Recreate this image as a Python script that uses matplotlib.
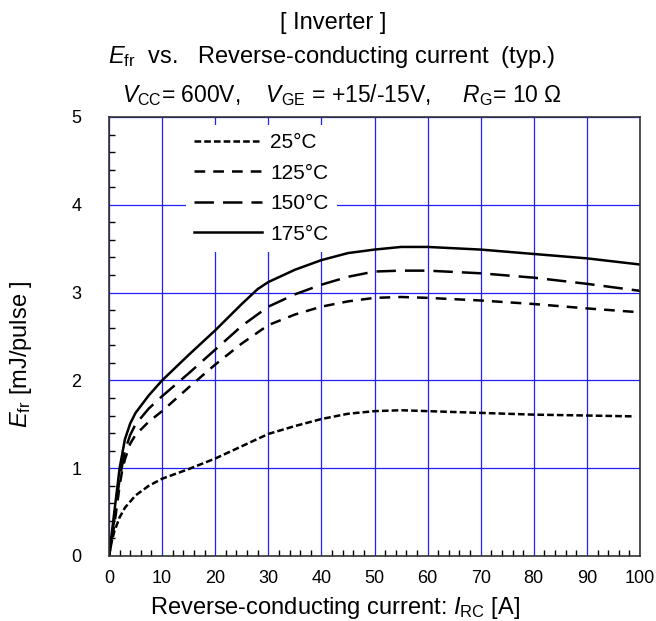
import numpy as np
import matplotlib
matplotlib.use("Agg")
import matplotlib.pyplot as plt
from matplotlib.ticker import MultipleLocator

plt.rcParams['font.family'] = ['Liberation Sans', 'DejaVu Sans']
plt.rcParams['mathtext.fontset'] = 'custom'
plt.rcParams['mathtext.rm'] = 'Liberation Sans'
plt.rcParams['mathtext.it'] = 'Liberation Sans:italic'
plt.rcParams['lines.scale_dashes'] = False

# Reverse-conducting current I_RC [A]
x_25 = [0, 0.5, 1, 2, 3, 5, 7.5, 10, 15, 20, 25, 30, 35, 40, 45, 50, 55, 60, 70, 80, 90, 99]
x_125 = [0, 1, 2, 2.5, 3, 4, 5, 7.5, 10, 15, 20, 25, 30, 35, 40, 45, 50, 55, 60, 70, 80, 90, 99]
x_150 = [0, 1, 2, 3, 4, 5, 7.5, 10, 15, 20, 25, 30, 35, 40, 45, 50, 55, 60, 70, 80, 90, 100]
x_175 = [0, 1, 2, 3, 4, 5, 7.5, 10, 15, 20, 25, 28, 30, 35, 40, 45, 50, 55, 60, 70, 80, 90, 100]

# Efr [mJ/pulse]
e_25 = [0, 0.16, 0.28, 0.44, 0.55, 0.69, 0.80, 0.88, 0.99, 1.11, 1.25, 1.39, 1.48, 1.56,
        1.62, 1.65, 1.66, 1.65, 1.63, 1.61, 1.60, 1.59]
e_125 = [0, 0.35, 0.80, 0.98, 1.10, 1.28, 1.38, 1.53, 1.65, 1.92, 2.18, 2.42, 2.63, 2.75,
         2.84, 2.90, 2.94, 2.95, 2.94, 2.91, 2.87, 2.82, 2.78]
e_150 = [0, 0.42, 0.88, 1.20, 1.38, 1.50, 1.68, 1.82, 2.08, 2.35, 2.62, 2.84, 2.98, 3.09,
         3.18, 3.24, 3.25, 3.25, 3.22, 3.17, 3.10, 3.02]
e_175 = [0, 0.50, 1.00, 1.33, 1.51, 1.63, 1.83, 2.00, 2.29, 2.57, 2.87, 3.04, 3.12, 3.26,
         3.37, 3.45, 3.49, 3.52, 3.52, 3.49, 3.44, 3.39, 3.32]

labels = ['25°C', '125°C', '150°C', '175°C']

W, H = 656, 621
fig = plt.figure(figsize=(W / 100, H / 100), dpi=100)
ax = fig.add_axes([109 / W, 65 / H, 531 / W, 439 / H])

lw = 1.8
ax.plot(x_25, e_25, color='black', lw=lw, dashes=(4.8, 2.2), label=labels[0])
ax.plot(x_125, e_125, color='black', lw=lw, dashes=(7.7, 5.8), label=labels[1])
ax.plot(x_150, e_150, color='black', lw=lw, dashes=(14, 6.5), label=labels[2])
ax.plot(x_175, e_175, color='black', lw=lw, label=labels[3])

ax.set_xlim(0, 100)
ax.set_ylim(0, 5)
ax.xaxis.set_major_locator(MultipleLocator(10))
ax.xaxis.set_minor_locator(MultipleLocator(2))
ax.yaxis.set_major_locator(MultipleLocator(1))
ax.yaxis.set_minor_locator(MultipleLocator(0.2))
ax.tick_params(which='both', direction='in', top=False, right=False, labelsize=13)
ax.tick_params(which='major', length=0, width=1)
ax.tick_params(which='minor', length=4, width=1)
ax.tick_params(axis='x', which='major', pad=10)
ax.tick_params(axis='y', which='major', pad=20)
ax.grid(True, which='major', color='#1f1fff', lw=0.9)
ax.set_axisbelow(True)
for s in ax.spines.values():
    s.set_linewidth(1.2)
    s.set_color('#333333')

leg = ax.legend(loc='upper left', bbox_to_anchor=(0.145, 0.982), fontsize=15,
                frameon=True, fancybox=False, handlelength=3.27, handletextpad=0.38,
                labelspacing=0.55, borderpad=0.4, borderaxespad=0)
leg.get_frame().set_facecolor('white')
leg.get_frame().set_edgecolor('none')
leg.get_frame().set_alpha(1)

# axis titles placed like the datasheet text boxes
fig.text(335 / W, 1 - 614 / H, r'Reverse-conducting current: $\mathit{I}_{\mathrm{RC}}$ [A]',
         ha='center', va='baseline', fontsize=17)
fig.text(34 / W, 1 - 354 / H, r'$\mathit{E}_{\mathrm{fr}}$ [mJ/pulse ]',
         ha='right', va='center', rotation=90, fontsize=17)

fig.text(333 / W, 1 - 29 / H, '[ Inverter ]', ha='center', va='baseline', fontsize=17)
fig.text(332 / W, 1 - 63 / H, r'$\mathit{E}_{\mathrm{fr}}$  vs.   Reverse-conducting current  (typ.)',
         ha='center', va='baseline', fontsize=17)
fig.text(342 / W, 1 - 102 / H,
         r'$\mathit{V}_{\mathrm{CC}}$= 600V,    $\mathit{V}_{\mathrm{GE}}$ = +15/-15V,     $\mathit{R}_{\mathrm{G}}$= 10 Ω',
         ha='center', va='baseline', fontsize=16.5)

fig.savefig('out.png', dpi=100)
